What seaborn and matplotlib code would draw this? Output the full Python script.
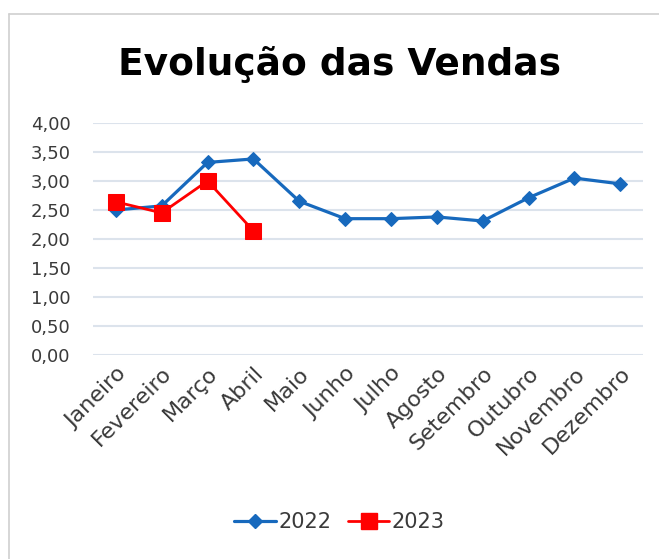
import matplotlib.pyplot as plt
import matplotlib.lines as mlines
import seaborn as sns
import pandas as pd

meses = ["Janeiro", "Fevereiro", "Março", "Abril", "Maio", "Junho", "Julho",
         "Agosto", "Setembro", "Outubro", "Novembro", "Dezembro"]
vendas_2022 = [2.50, 2.57, 3.32, 3.38, 2.65, 2.35, 2.35, 2.38, 2.31, 2.71, 3.05, 2.95]
meses_2023 = ["Janeiro", "Fevereiro", "Março", "Abril"]
vendas_2023 = [2.64, 2.45, 3.00, 2.14]
yticks = [0, 0.5, 1, 1.5, 2, 2.5, 3, 3.5, 4]

azul = "#1769BD"
vermelho = "#FF0000"

sns.set_style("white")
plt.rcParams["font.family"] = ["DejaVu Sans"]

fig = plt.figure(figsize=(6.59, 5.59), dpi=100)
ax = fig.add_axes([0.141, 0.365, 0.835, 0.415])

df22 = pd.DataFrame({"mes": meses, "valor": vendas_2022})
df23 = pd.DataFrame({"mes": meses_2023, "valor": vendas_2023})

sns.lineplot(data=df22, x="mes", y="valor", ax=ax, color=azul, linewidth=2.3,
             marker="D", markersize=7, markeredgecolor=azul, sort=False, zorder=3)
sns.lineplot(data=df23, x="mes", y="valor", ax=ax, color=vermelho, linewidth=2.0,
             marker="s", markersize=11, markeredgecolor=vermelho, sort=False, zorder=4)

ax.set_xlim(-0.5, 11.5)
ax.set_ylim(0, 4)
ax.set_yticks(yticks)
ax.set_yticklabels([f"{v:.2f}".replace(".", ",") for v in yticks])
ax.yaxis.grid(True, color="#DCE3EC", linewidth=1.5)
ax.set_axisbelow(True)
for s in ax.spines.values():
    s.set_visible(False)
ax.set_xlabel("")
ax.set_ylabel("")
ax.tick_params(axis="y", labelsize=13, labelcolor="#3A3A3A", pad=16, length=0)
ax.tick_params(axis="x", labelsize=16, labelcolor="#3A3A3A", pad=6, length=0)
plt.setp(ax.get_xticklabels(), rotation=45, ha="right", rotation_mode="anchor")

fig.text(0.515, 0.885, "Evolução das Vendas", ha="center", va="center",
         fontsize=27, fontweight="bold", color="black")

h22 = mlines.Line2D([], [], color=azul, linewidth=2.3, marker="D", markersize=7)
h23 = mlines.Line2D([], [], color=vermelho, linewidth=2.0, marker="s", markersize=12)
fig.legend([h22, h23], ["2022", "2023"], loc="center", bbox_to_anchor=(0.515, 0.066),
           ncol=2, frameon=False, fontsize=15, handlelength=2.0, columnspacing=0.8,
           handletextpad=0.1, labelcolor="#3A3A3A")

# moldura (apenas esquerda e topo visiveis)
fig.add_artist(mlines.Line2D([0.013, 0.013], [0, 0.975], color="#D0D0D0", linewidth=1.2))
fig.add_artist(mlines.Line2D([0.013, 1], [0.975, 0.975], color="#D0D0D0", linewidth=1.2))

fig.savefig("out.png", dpi=100)
